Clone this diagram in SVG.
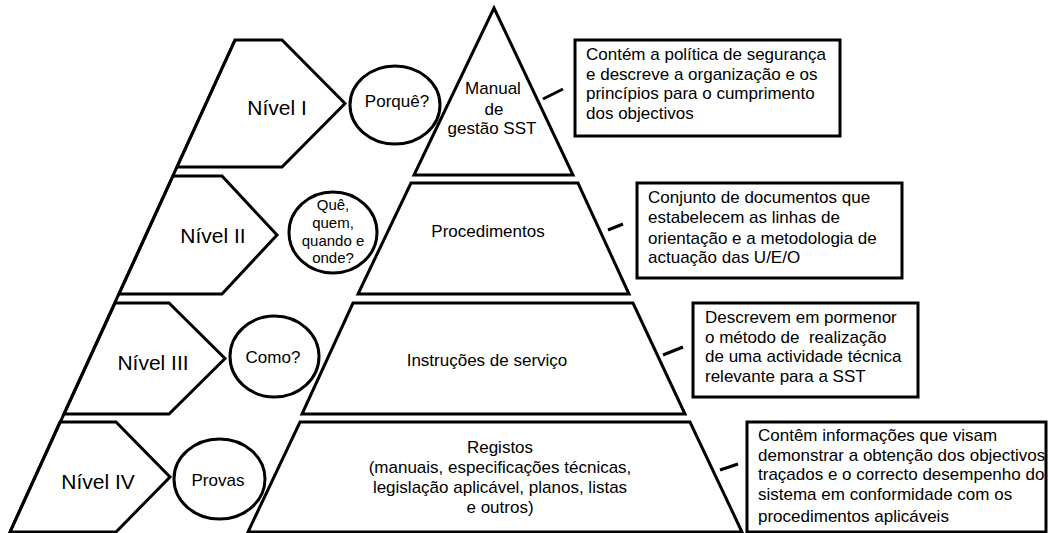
<svg xmlns="http://www.w3.org/2000/svg" width="1049" height="533" viewBox="0 0 1049 533">
<style>
.shp{fill:#fff;stroke:#000;stroke-width:3;stroke-linejoin:miter}
.ln{fill:none;stroke:#000;stroke-width:3}
.t{font-family:"Liberation Sans",Arial,sans-serif;fill:#000}
.lvl{font-size:21px;text-anchor:middle}
.q{font-size:17px;text-anchor:middle}
.qs{font-size:15px;text-anchor:middle}
.p{font-size:17px;text-anchor:middle}
.d{font-size:17px;white-space:pre}
</style>
<rect width="1049" height="533" fill="#fff"/>
<g id="level-1">
<polygon class="shp" points="235,40 282,40 345,103.5 282,167 177,167"/>
<text class="t lvl" x="277" y="115">Nível I</text>
</g>
<g id="level-2">
<polygon class="shp" points="173,176 222,176 277,235 222,294 119,294"/>
<text class="t lvl" x="213" y="243">Nível II</text>
</g>
<g id="level-3">
<polygon class="shp" points="115,303 169,303 225,358.5 169,414 64,414"/>
<text class="t lvl" x="153" y="370">Nível III</text>
</g>
<g id="level-4">
<polygon class="shp" points="60,422 116,422 170,477 116,532 10,532"/>
<text class="t lvl" x="98" y="489">Nível IV</text>
</g>
<g id="left-edge">
<line class="ln" x1="235" y1="40" x2="10" y2="532"/>
</g>
<g id="q-porque">
<ellipse class="shp" cx="395" cy="105" rx="45" ry="39"/>
<text class="t q" x="397" y="107">Porquê?</text>
</g>
<g id="q-que">
<ellipse class="shp" cx="333" cy="232.5" rx="44" ry="40.5"/>
<text class="t qs" x="333" y="210">Quê,</text>
<text class="t qs" x="333" y="228">quem,</text>
<text class="t qs" x="333" y="245.5">quando e</text>
<text class="t qs" x="333" y="263">onde?</text>
</g>
<g id="q-como">
<ellipse class="shp" cx="274.5" cy="356.5" rx="44.5" ry="40.5"/>
<text class="t q" x="273" y="363">Como?</text>
</g>
<g id="q-provas">
<ellipse class="shp" cx="219.5" cy="479" rx="45.5" ry="40"/>
<text class="t q" x="218" y="486">Provas</text>
</g>
<g id="pyr-manual">
<polygon class="shp" points="494,8 573,175 414,175"/>
<text class="t p" x="493" y="94">Manual</text>
<text class="t p" x="494" y="115">de</text>
<text class="t p" x="492" y="134">gestão SST</text>
</g>
<g id="pyr-procedimentos">
<polygon class="shp" points="411,183 578,183 629,294 358,294"/>
<text class="t p" x="488" y="237">Procedimentos</text>
</g>
<g id="pyr-instrucoes">
<polygon class="shp" points="353,303 633,303 685,414 302,414"/>
<text class="t p" x="487" y="366">Instruções de serviço</text>
</g>
<g id="pyr-registos">
<polygon class="shp" points="300,422 690,422 742,532 248,532"/>
<text class="t p" x="500" y="453">Registos</text>
<text class="t p" x="500" y="473">(manuais, especificações técnicas,</text>
<text class="t p" x="500" y="493">legislação aplicável, planos, listas</text>
<text class="t p" x="500" y="513">e outros)</text>
</g>
<g id="box-1">
<rect class="shp" x="575" y="40" width="265" height="96"/>
<text class="t d" x="586" y="60">Contém a política de segurança</text>
<text class="t d" x="586" y="80">e descreve a organização e os</text>
<text class="t d" x="586" y="99">princípios para o cumprimento</text>
<text class="t d" x="586" y="119">dos objectivos</text>
</g>
<g id="box-2">
<rect class="shp" x="637" y="183" width="265" height="95"/>
<text class="t d" x="648" y="203">Conjunto de documentos que</text>
<text class="t d" x="648" y="223">estabelecem as linhas de</text>
<text class="t d" x="648" y="244">orientação e a metodologia de</text>
<text class="t d" x="648" y="263">actuação das U/E/O</text>
</g>
<g id="box-3">
<rect class="shp" x="693" y="303" width="225" height="94"/>
<text class="t d" x="705" y="323">Descrevem em pormenor</text>
<text class="t d" x="705" y="343">o método de  realização</text>
<text class="t d" x="705" y="362">de uma actividade técnica</text>
<text class="t d" x="705" y="382">relevante para a SST</text>
</g>
<g id="box-4">
<rect class="shp" x="747" y="422" width="299" height="110"/>
<text class="t d" x="758" y="441">Contêm informações que visam</text>
<text class="t d" x="758" y="461">demonstrar a obtenção dos objectivos</text>
<text class="t d" x="758" y="480">traçados e o correcto desempenho do</text>
<text class="t d" x="758" y="500">sistema em conformidade com os</text>
<text class="t d" x="758" y="522">procedimentos aplicáveis</text>
</g>
<g id="connectors">
<line class="ln" x1="543" y1="99" x2="563" y2="89"/>
<line class="ln" x1="608" y1="230" x2="623" y2="224"/>
<line class="ln" x1="663" y1="355" x2="683" y2="347"/>
<line class="ln" x1="720" y1="470" x2="738" y2="464"/>
</g>
</svg>
